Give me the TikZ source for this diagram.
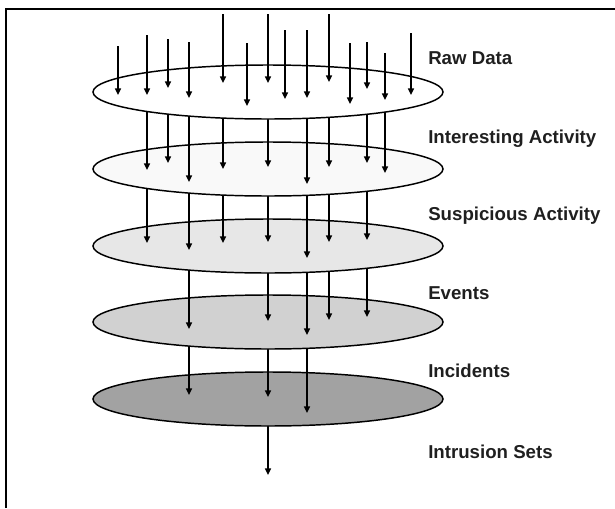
\documentclass[tikz,border=0pt]{standalone}
\usepackage{fontspec}
\setmainfont{Liberation Sans}
\usetikzlibrary{arrows.meta,shapes.geometric}
\definecolor{fillA}{HTML}{FFFFFF}
\definecolor{fillB}{HTML}{F9F9F9}
\definecolor{fillC}{HTML}{E7E7E7}
\definecolor{fillD}{HTML}{D1D1D1}
\definecolor{fillE}{HTML}{A2A2A2}
\begin{document}
\begin{tikzpicture}[x=0.75pt,y=-0.75pt,
  layer/.style={ellipse,draw=black,line width=1.1pt,minimum width=262.5pt,minimum height=40.5pt,inner sep=0pt},
  flow/.style={line width=1.1pt,-{Triangle[length=5pt,width=4.5pt]}},
  lab/.style={anchor=base west,font=\fontsize{14}{16}\selectfont\bfseries,text=black!88,inner sep=0pt}]
\useasboundingbox (0,0) rectangle (615,508);
\draw[line width=1.5pt] (6,508) -- (6,9) -- (615,9);

% bottom-up drawing so each layer covers the start of the arrows leaving it
\draw[flow] (268,399) -- (268,475);
\node[layer,fill=fillE] (e5) at (268,399) {};
\foreach \x/\y in {189/395,268/397,307/413}
  \draw[flow] (\x,322) -- (\x,\y);
\node[layer,fill=fillD] (e4) at (268,322) {};
\foreach \x/\y in {189/329,268/321,307/335,329/320,367/317}
  \draw[flow] (\x,246) -- (\x,\y);
\node[layer,fill=fillC] (e3) at (268,246) {};
\foreach \x/\y in {147/243,189/250,223/243,268/242,307/258,329/242,367/240}
  \draw[flow] (\x,169) -- (\x,\y);
\node[layer,fill=fillB] (e2) at (268,169) {};
\foreach \x/\y in {147/170,168/163,189/182,223/169,268/167,307/184,329/167,367/163,385/173}
  \draw[flow] (\x,92) -- (\x,\y);
\node[layer,fill=fillA] (e1) at (268,92) {};
\foreach \x/\s/\y in {118/46/95,147/35/95,168/39/88,189/42/98,223/14/83,247/43/106,268/14/83,285/30/99,307/30/98,329/14/82,350/43/104,367/42/89,385/53/100,411/33/95}
  \draw[flow] (\x,\s) -- (\x,\y);

\node[lab] (l1) at (428,64) {Raw Data};
\node[lab] (l2) at (428,143) {Interesting Activity};
\node[lab] (l3) at (428,220) {Suspicious Activity};
\node[lab] (l4) at (428,299) {Events};
\node[lab] (l5) at (428,377) {Incidents};
\node[lab] (l6) at (428,458) {Intrusion Sets};
\end{tikzpicture}
\end{document}
